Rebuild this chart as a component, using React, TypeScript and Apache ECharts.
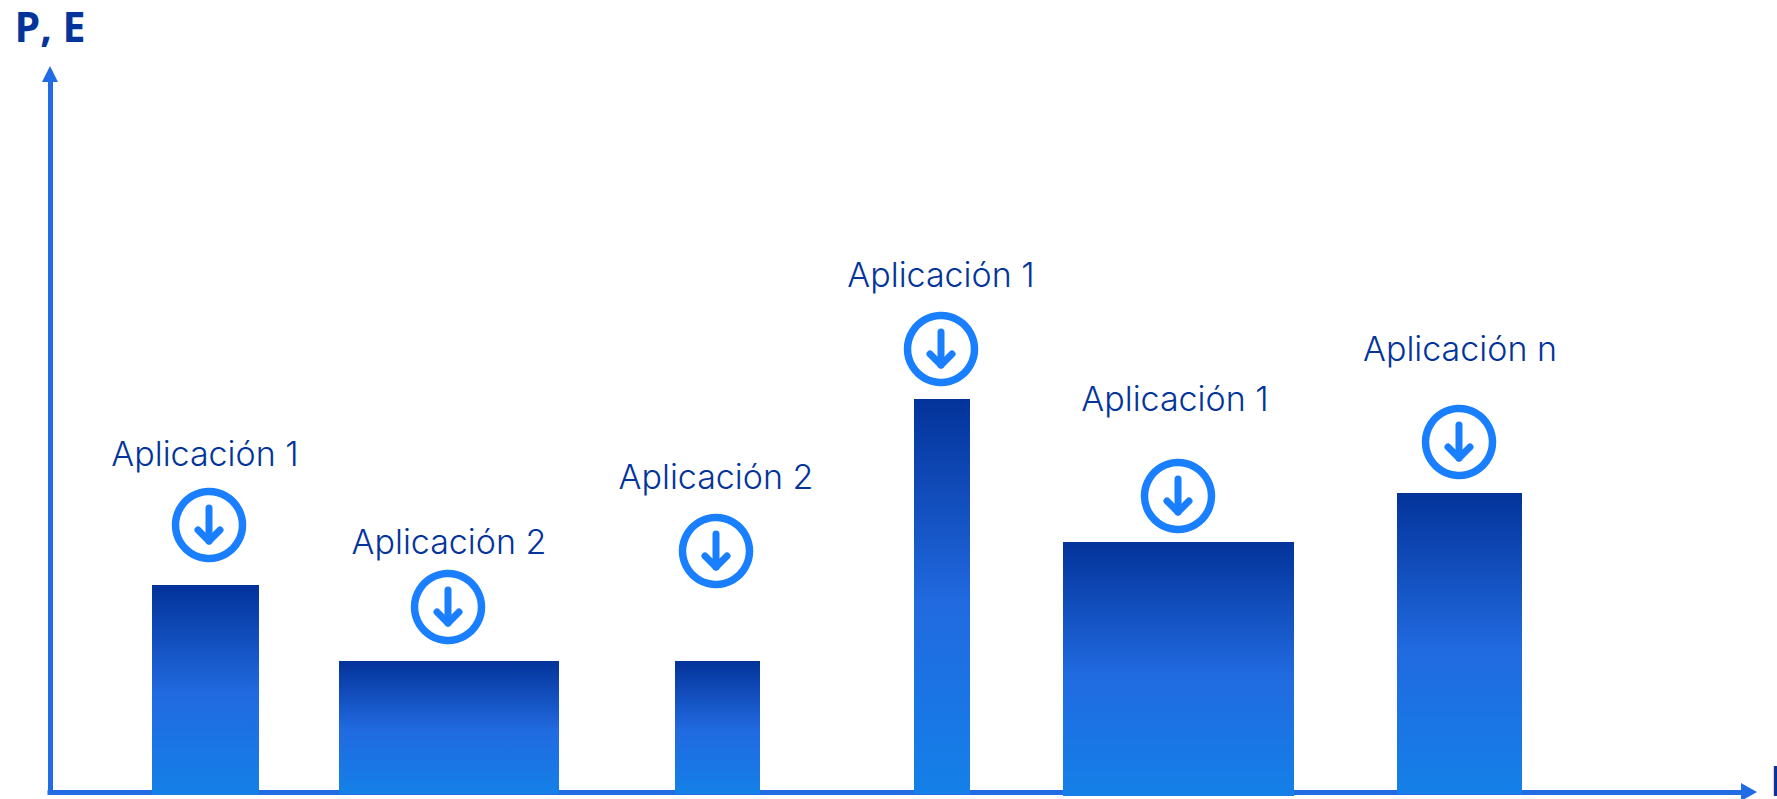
import React, { useEffect, useRef } from "react";
import * as echarts from "echarts";

const yAxisTitle = "P, E";
const xAxisTitle = "E";

// Each block: start and end along the horizontal axis, its level and its foot.
const blockStarts = [102, 289, 625, 864, 1013, 1347];
const blockEnds = [209, 509, 710, 920, 1244, 1472];
const blockLevels = [207, 131, 131, 393, 250, 299];
const blockFeet = [-3, -2, -2, -2, -4, -2];

const applicationNames = [
  "Aplicación 1",
  "Aplicación 2",
  "Aplicación 2",
  "Aplicación 1",
  "Aplicación 1",
  "Aplicación n",
];
const nameX = [155, 399, 666, 891, 1125, 1410];
const nameLevels = [339, 251, 316, 518, 394, 444];
const iconX = [159, 398, 666, 891, 1128, 1409];
const iconLevels = [267, 185, 241, 443, 296, 350];

const NAVY = "#03349a";
const AXIS_BLUE = "#216ce4";
const ICON_BLUE = "#1a7fff";

const blockFill = new echarts.graphic.LinearGradient(0, 0, 0, 1, [
  { offset: 0, color: "#03339a" },
  { offset: 0.52, color: "#216ae0" },
  { offset: 1, color: "#1480e8" },
]);

export default function App() {
  const ref = useRef<HTMLDivElement>(null);

  useEffect(() => {
    const chart = echarts.init(ref.current!, undefined, { renderer: "svg" });
    chart.setOption({
      animation: false,
      backgroundColor: "#ffffff",
      grid: { left: 50, top: 74, right: 28, bottom: 7, containLabel: false, outerBoundsMode: "none" },
      xAxis: {
        type: "value",
        min: 0,
        max: 1699,
        splitLine: { show: false },
        axisTick: { show: false },
        axisLabel: { show: false },
        axisLine: {
          show: true,
          onZero: false,
          symbol: ["none", "triangle"],
          symbolSize: [18, 16],
          symbolOffset: 0,
          lineStyle: { color: AXIS_BLUE, width: 5, cap: "square" },
        },
        name: xAxisTitle,
        nameLocation: "end",
        nameGap: 21,
        nameTextStyle: {
          color: NAVY,
          fontFamily: "Open Sans",
          fontWeight: "bold",
          fontSize: 42,
          align: "left",
          verticalAlign: "top",
          padding: [-34, 0, 0, 0],
        },
      },
      yAxis: {
        type: "value",
        min: 0,
        max: 718,
        splitLine: { show: false },
        axisTick: { show: false },
        axisLabel: { show: false },
        axisLine: {
          show: true,
          onZero: false,
          symbol: ["none", "triangle"],
          symbolSize: [16, 16],
          symbolOffset: 0,
          lineStyle: { color: AXIS_BLUE, width: 5, cap: "square" },
        },
        name: yAxisTitle,
        nameLocation: "end",
        nameGap: 28,
        nameTextStyle: {
          color: NAVY,
          fontFamily: "Open Sans",
          fontWeight: "bold",
          fontSize: 41,
          align: "center",
          verticalAlign: "bottom",
        },
      },
      series: [
        {
          type: "custom",
          coordinateSystem: "cartesian2d",
          clip: false,
          z: 3,
          data: blockLevels.map((level, i) => [blockStarts[i], blockEnds[i], level, blockFeet[i]]),
          encode: { x: [0, 1], y: [2, 3] },
          renderItem: (_p: any, api: any) => {
            const topLeft = api.coord([api.value(0), api.value(2)]);
            const bottomRight = api.coord([api.value(1), api.value(3)]);
            return {
              type: "rect",
              shape: {
                x: topLeft[0],
                y: topLeft[1],
                width: bottomRight[0] - topLeft[0],
                height: bottomRight[1] - topLeft[1],
              },
              style: { fill: blockFill },
            };
          },
        },
        {
          // Download badge: a ring with a rounded arrow inside.
          type: "custom",
          coordinateSystem: "cartesian2d",
          clip: false,
          z: 4,
          data: iconLevels.map((level, i) => [iconX[i], level]),
          encode: { x: 0, y: 1 },
          renderItem: (_p: any, api: any) => {
            const [cx, cy] = api.coord([api.value(0), api.value(1)]);
            const stroke = { stroke: ICON_BLUE, fill: "none", lineCap: "round", lineJoin: "round" };
            return {
              type: "group",
              x: cx,
              y: cy,
              children: [
                {
                  type: "circle",
                  shape: { cx: 0, cy: 0, r: 33.5 },
                  style: { ...stroke, lineWidth: 7.5 },
                },
                {
                  type: "line",
                  shape: { x1: 0, y1: -17, x2: 0, y2: 16 },
                  style: { ...stroke, lineWidth: 7 },
                },
                {
                  type: "polyline",
                  shape: { points: [[-11, 5], [0, 16], [11, 5]] },
                  style: { ...stroke, lineWidth: 7 },
                },
              ],
            };
          },
        },
        {
          type: "custom",
          coordinateSystem: "cartesian2d",
          clip: false,
          z: 4,
          data: nameLevels.map((level, i) => [nameX[i], level, applicationNames[i]]),
          encode: { x: 0, y: 1 },
          renderItem: (_p: any, api: any) => {
            const [x, y] = api.coord([api.value(0), api.value(1)]);
            return {
              type: "text",
              x,
              y,
              style: {
                text: String(api.value(2)),
                fill: NAVY,
                fontFamily: "Inter",
                fontWeight: 300,
                fontSize: 34,
                align: "center",
                verticalAlign: "middle",
              },
            };
          },
        },
      ],
    });
    return () => chart.dispose();
  }, []);

  return (
    <div
      ref={ref}
      style={{ position: "fixed", left: 0, top: 0, width: 1777, height: 799 }}
    />
  );
}
